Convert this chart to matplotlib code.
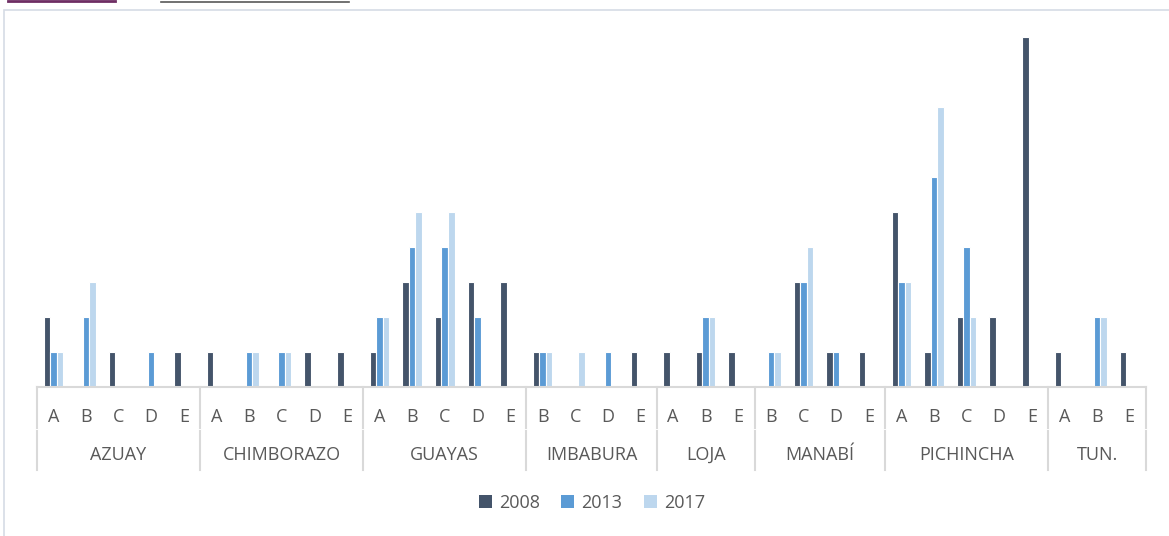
import matplotlib.pyplot as plt
from matplotlib.patches import Patch, Rectangle
from matplotlib.lines import Line2D
import matplotlib.transforms as mtransforms

plt.rcParams['font.family'] = ['Open Sans', 'DejaVu Sans']

# Provincias y subcategorías por provincia
provincias = ['AZUAY', 'CHIMBORAZO', 'GUAYAS', 'IMBABURA', 'LOJA', 'MANABÍ', 'PICHINCHA', 'TUN.']
subcats = [
    ['A', 'B', 'C', 'D', 'E'],
    ['A', 'B', 'C', 'D', 'E'],
    ['A', 'B', 'C', 'D', 'E'],
    ['B', 'C', 'D', 'E'],
    ['A', 'B', 'E'],
    ['B', 'C', 'D', 'E'],
    ['A', 'B', 'C', 'D', 'E'],
    ['A', 'B', 'E'],
]

anios = ['2008', '2013', '2017']
colores = ['#44546A', '#5B9BD5', '#BDD7EE']

v2008 = [2, 0, 1, 0, 1,   1, 0, 0, 1, 1,   1, 3, 2, 3, 3,   1, 0, 0, 1,   1, 1, 1,   0, 3, 1, 1,   5, 1, 2, 2, 10,   1, 0, 1]
v2013 = [1, 2, 0, 1, 0,   0, 1, 1, 0, 0,   2, 4, 4, 2, 0,   1, 0, 1, 0,   0, 2, 0,   1, 3, 1, 0,   3, 6, 4, 0, 0,    0, 2, 0]
v2017 = [1, 3, 0, 0, 0,   0, 1, 1, 0, 0,   2, 5, 5, 0, 0,   1, 1, 0, 0,   0, 2, 0,   1, 4, 0, 0,   3, 8, 2, 0, 0,    0, 2, 0]
series = [v2008, v2013, v2017]

W, H = 1169, 536
fig = plt.figure(figsize=(W / 100, H / 100), dpi=100)

# marco del gráfico y restos de la cabecera
fig.patches.append(Rectangle((4 / W, -0.05), 1.2, 1 - 10 / H + 0.05, transform=fig.transFigure,
                             fill=False, edgecolor='#D6DCE5', lw=1.2))
fig.lines.append(Line2D([8 / W, 115 / W], [1 - 1 / H] * 2, transform=fig.transFigure, color='#6E2D63', lw=2))
fig.lines.append(Line2D([161 / W, 349 / W], [1 - 1.5 / H] * 2, transform=fig.transFigure, color='#595959', lw=1.2))

left, right, base, top = 37, 1146, 387, 37
ax = fig.add_axes([left / W, 1 - base / H, (right - left) / W, (base - top) / H])

n = sum(len(s) for s in subcats)
x = list(range(n))
ancho = 0.2
for k, (vals, col) in enumerate(zip(series, colores)):
    xs = [xi + (k - 1) * ancho for xi, v in zip(x, vals) if v > 0]
    hs = [v for v in vals if v > 0]
    ax.bar(xs, hs, width=ancho, color=col, edgecolor='white', linewidth=0.8, zorder=2)

ax.set_xlim(-0.5, n - 0.5)
ax.set_ylim(0, 10)
ax.set_yticks([])
ax.set_xticks([])
for s in ['top', 'right', 'left']:
    ax.spines[s].set_visible(False)
ax.spines['bottom'].set_color('#D9D9D9')
ax.spines['bottom'].set_linewidth(1.5)

trans = mtransforms.blended_transform_factory(ax.transData, ax.transAxes)
alto = base - top
gris = '#595959'
sep = '#D9D9D9'

# etiquetas de dos niveles y separadores
pos = 0
limites = [-0.5]
for prov, subs in zip(provincias, subcats):
    for j, s in enumerate(subs):
        ax.text(pos + j, -30 / alto, s, transform=trans, ha='center', va='center',
                fontsize=13, color=gris)
    centro = pos + (len(subs) - 1) / 2
    ax.text(centro, -68 / alto, prov, transform=trans, ha='center', va='center',
            fontsize=13, color=gris)
    pos += len(subs)
    limites.append(pos - 0.5)

for b in limites:
    ax.plot([b, b], [0, -41 / alto], transform=trans, color=sep, lw=1.5, clip_on=False)
    ax.plot([b, b], [-44 / alto, -83 / alto], transform=trans, color=sep, lw=1.5, clip_on=False)

handles = [Patch(facecolor=c, edgecolor='none') for c in colores]
fig.legend(handles, anios, loc='center', bbox_to_anchor=(592 / W, 1 - 503 / H), ncol=3,
           frameon=False, fontsize=13, labelcolor=gris, handlelength=0.7, handleheight=0.7,
           handletextpad=0.4, columnspacing=1.2)

fig.savefig('out.png', dpi=100)
